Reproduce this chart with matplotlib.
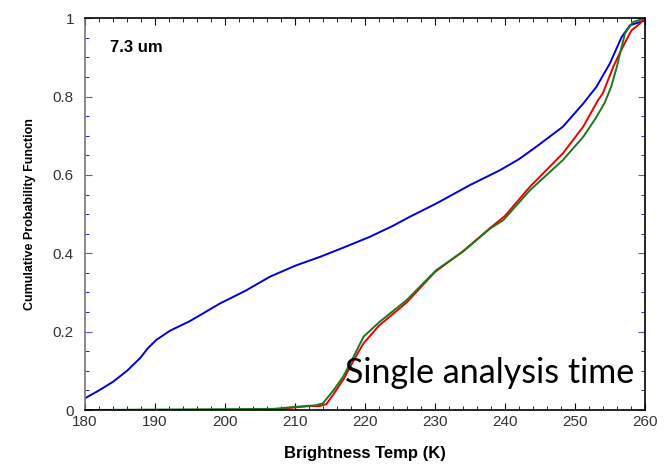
import matplotlib.pyplot as plt
from matplotlib.ticker import MultipleLocator

# brightness temperature (K) / cumulative probability
blue_t = [180, 182, 184, 186, 187.9, 189, 190.2, 192.1, 195, 199.3, 203, 206.4,
          210, 213.6, 217, 220.7, 224, 226.4, 230.2, 235, 239.3, 242, 244.5,
          248.3, 251.2, 253.1, 255, 256.7, 257.9, 259.8, 260]
blue_p = [0.03, 0.05, 0.072, 0.10, 0.133, 0.158, 0.179, 0.202, 0.227, 0.272, 0.305,
          0.34, 0.368, 0.391, 0.415, 0.442, 0.47, 0.493, 0.527, 0.574, 0.612, 0.64,
          0.672, 0.723, 0.782, 0.825, 0.884, 0.952, 0.982, 0.993, 1.0]

red_t = [180, 208, 209, 212, 213.5, 214.5, 215.5, 217, 218.5, 219.8, 222, 226, 230,
         234, 238, 240, 243.6, 248.3, 251.2, 253.3, 254, 255.5, 256.4, 257.1, 258.1,
         259.3, 260]
red_p = [0.0, 0.0, 0.005, 0.01, 0.01, 0.015, 0.04, 0.08, 0.13, 0.17, 0.215, 0.275,
         0.352, 0.405, 0.466, 0.495, 0.57, 0.655, 0.723, 0.79, 0.808, 0.876, 0.91,
         0.935, 0.969, 0.986, 1.0]

green_t = [180, 207, 210, 213, 214, 215.5, 216.9, 218.5, 219.8, 222.1, 226, 230.2,
           234, 237.9, 239.8, 243.6, 248.3, 251.2, 253, 254.3, 255.2, 256, 256.6,
           257.2, 258.3, 259.8, 260]
green_p = [0.0, 0.003, 0.008, 0.012, 0.017, 0.05, 0.085, 0.14, 0.187, 0.225, 0.281,
           0.357, 0.404, 0.463, 0.485, 0.561, 0.638, 0.697, 0.745, 0.785, 0.825, 0.875,
           0.92, 0.962, 0.99, 0.999, 1.0]

y_ticks = [0, 0.2, 0.4, 0.6, 0.8, 1]
y_labels = ["0", "0.2", "0.4", "0.6", "0.8", "1"]

plt.rcParams["font.family"] = ["Liberation Sans", "DejaVu Sans"]

fig = plt.figure(figsize=(6.64, 4.67), dpi=100)
ax = fig.add_axes([0.128, 0.122, 0.843, 0.839])

ax.plot(blue_t, blue_p, color="#0000dd", lw=1.4)
ax.plot(red_t, red_p, color="#ee0000", lw=1.4)
ax.plot(green_t, green_p, color="#1a7a1a", lw=1.4)

ax.set_xlim(180, 260)
ax.set_ylim(0, 1)
ax.xaxis.set_major_locator(MultipleLocator(10))
ax.xaxis.set_minor_locator(MultipleLocator(2))
ax.set_yticks(y_ticks)
ax.set_yticklabels(y_labels)
ax.yaxis.set_minor_locator(MultipleLocator(0.05))

ax.tick_params(axis="both", which="both", direction="in", top=True, right=True,
               labelsize=11, labelcolor="#333333")
ax.tick_params(axis="x", which="major", length=5, color="black")
ax.tick_params(axis="x", which="minor", length=3, color="black")
ax.tick_params(axis="y", which="major", length=5, color="#5555dd")
ax.tick_params(axis="y", which="minor", length=3, color="#0000bb")
ax.tick_params(axis="y", pad=8)

ax.spines["left"].set_color("#777777")
for s in ax.spines.values():
    s.set_linewidth(1.2)

ax.set_xlabel("Brightness Temp (K)", fontsize=12, fontweight="bold", labelpad=12)
ax.set_ylabel("Cumulative Probability Function", fontsize=9, fontweight="bold",
              labelpad=12)

ax.text(183.6, 0.926, "7.3 um", fontsize=12, fontweight="bold", va="center")
ax.text(217.1, 0.069, "Single analysis time", fontsize=24.5, family="Lato",
        va="baseline", ha="left")

fig.savefig("out.png", dpi=100)
